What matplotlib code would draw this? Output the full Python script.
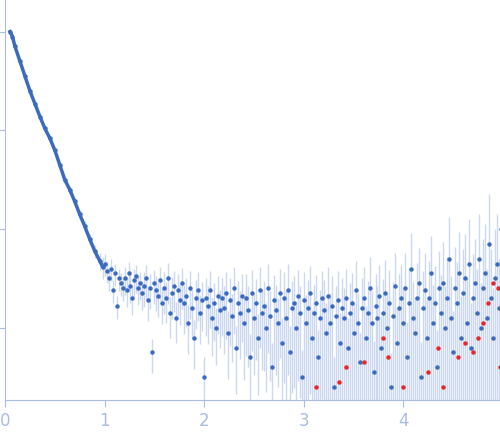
import matplotlib.pyplot as plt
import numpy as np

# smooth low-q part (q, log10 I)
q_low = [0.05, 0.075, 0.1, 0.15, 0.2, 0.25, 0.3, 0.35, 0.4, 0.45, 0.5, 0.55,
         0.6, 0.65, 0.7, 0.75, 0.8, 0.85, 0.9, 0.95, 0.98]
logI_low = [0.0, -0.05, -0.15, -0.3, -0.45, -0.6, -0.73, -0.86, -0.98, -1.08,
            -1.2, -1.35, -1.5, -1.6, -1.72, -1.85, -1.97, -2.1, -2.22, -2.32, -2.38]
err_low = [0.01, 0.01, 0.01, 0.01, 0.01, 0.01, 0.01, 0.01, 0.015, 0.015, 0.02,
           0.02, 0.02, 0.03, 0.03, 0.04, 0.05, 0.05, 0.06, 0.08, 0.1]

# noisy high-q part, q = 1.00 .. 4.98 step 0.02
q_high = np.arange(200) * 0.02 + 1.0
logI_high = [
    -2.35, -2.42, -2.5, -2.4, -2.62, -2.45, -2.78, -2.5, -2.55, -2.6,
    -2.5, -2.62, -2.45, -2.58, -2.7, -2.52, -2.48, -2.6, -2.55, -2.65,
    -2.58, -2.5, -2.72, -2.6, -3.25, -2.55, -2.62, -2.68, -2.52, -2.75,
    -2.6, -2.7, -2.5, -2.85, -2.65, -2.58, -2.9, -2.62, -2.72, -2.55,
    -2.75, -2.68, -2.95, -2.6, -2.8, -3.1, -2.7, -2.62, -2.85, -2.72,
    -3.5, -2.7, -2.78, -2.62, -2.9, -2.75, -3.0, -2.68, -2.82, -2.7,
    -2.8, -2.65, -3.05, -2.72, -2.88, -2.6, -3.2, -2.75, -2.85, -2.68,
    -2.95, -2.7, -2.82, -3.3, -2.65, -2.9, -2.75, -3.1, -2.62, -2.85,
    -2.78, -3.0, -2.6, -2.88, -3.4, -2.72, -2.82, -2.95, -2.65, -3.15,
    -2.7, -2.9, -2.62, -3.25, -2.8, -2.75, -3.0, -2.68, -2.85, -3.5,
    -2.72, -2.95, -2.8, -2.65, -3.1, -2.85, -2.75, -3.3, -2.9, -2.7,
    -2.82, -3.05, -2.68, -2.95, -2.78, -3.6, -2.88, -2.72, -3.15, -2.8,
    -2.9, -2.7, -3.2, -2.85, -2.75, -3.05, -2.62, -2.95, -3.35, -2.8,
    -2.7, -3.1, -2.85, -2.6, -2.95, -3.45, -2.78, -2.9, -2.68, -3.2,
    -2.85, -2.65, -3.0, -2.75, -3.6, -2.88, -2.58, -3.15, -2.8, -2.7,
    -2.95, -2.6, -3.3, -2.75, -2.4, -2.9, -3.05, -2.7, -2.55, -3.5,
    -2.8, -2.62, -3.1, -2.7, -2.45, -2.95, -2.75, -3.4, -2.6, -2.85,
    -2.55, -3.0, -2.7, -2.3, -2.9, -3.25, -2.6, -2.75, -2.45, -3.1,
    -2.65, -2.5, -2.95, -2.35, -3.2, -2.7, -2.55, -2.85, -2.3, -3.0,
    -2.6, -2.45, -2.9, -2.15, -2.7, -3.1, -2.5, -2.35, -2.8, -2.0,
]
# log10 error half-width, one per block of 10 points
err_block = [0.1, 0.12, 0.14, 0.16, 0.18, 0.2, 0.22, 0.24, 0.25, 0.27,
             0.28, 0.3, 0.3, 0.32, 0.34, 0.36, 0.38, 0.42, 0.45, 0.5]

# outlier points drawn in red
q_red = [3.12, 3.35, 3.42, 3.6, 3.8, 3.85, 4.0, 4.25, 4.35, 4.4, 4.55, 4.62,
         4.7, 4.75, 4.8, 4.85, 4.9, 4.95, 4.97]
logI_red = [-3.6, -3.55, -3.4, -3.35, -3.1, -3.3, -3.6, -3.45, -3.2, -3.6,
            -3.3, -3.15, -3.25, -3.1, -2.95, -2.75, -2.55, -2.6, -3.4]

blue = '#3a6bbf'
axis_col = '#a9bce3'

I_low = 10 ** np.array(logI_low)
I_high = 10 ** np.array(logI_high)
e_high = np.repeat(err_block, 10)
yerr_low = I_low * (10 ** np.array(err_low) - 1)
yerr_high = I_high * (10 ** e_high - 1)

fig = plt.figure(figsize=(5, 4.37), dpi=100)
ax = fig.add_axes([0.01, 0.085, 0.99, 0.915])

ax.errorbar(q_high, I_high, yerr=yerr_high, fmt='none', ecolor='#cbd8ef', elinewidth=1)
ax.errorbar(q_low, I_low, yerr=yerr_low, fmt='none', ecolor='#cbd8ef', elinewidth=1)
ax.plot(q_low, I_low, '-', color=blue, lw=2.5)
ax.plot(q_low, I_low, 'o', color=blue, ms=2.2)
ax.plot(q_high, I_high, 'o', color=blue, ms=2.2, ls='none')
ax.plot(q_red, 10 ** np.array(logI_red), 'o', color='#e8262b', ms=2.2, ls='none')

ax.set_yscale('log')
ax.set_ylim(10 ** -3.73, 10 ** 0.32)
ax.set_xlim(0, 4.97)
ax.set_xticks([0, 1, 2, 3, 4])
ax.set_yticks([1e-3, 1e-2, 1e-1, 1])
ax.yaxis.set_minor_locator(plt.NullLocator())
ax.set_yticklabels([])
for s in ['top', 'right']:
    ax.spines[s].set_visible(False)
for s in ['left', 'bottom']:
    ax.spines[s].set_color(axis_col)
ax.tick_params(colors=axis_col, labelcolor=axis_col, labelsize=12, length=5)

fig.savefig('out.png')
